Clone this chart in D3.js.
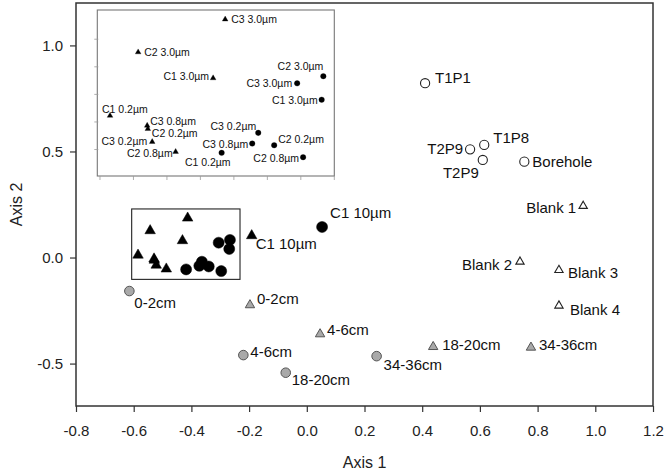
<!DOCTYPE html>
<html><head><meta charset="utf-8">
<script src="https://cdn.jsdelivr.net/npm/d3@7"></script>
<style>
body{margin:0;background:#fff;}
text{font-family:"Liberation Sans",Arial,sans-serif;}
</style>
</head><body>
<svg id="chart" width="666" height="472"></svg>
<script>
// ---------- data ----------
const xTicks = [-0.8,-0.6,-0.4,-0.2,0.0,0.2,0.4,0.6,0.8,1.0,1.2];
const yTicks = [-0.5,0.0,0.5,1.0];
const insetXTicks = [-0.6,-0.55,-0.5,-0.45,-0.4,-0.35,-0.3,-0.25];
const insetYTicks = [-0.05,0.0,0.05,0.10,0.15];

// filtered size-fraction samples (cluster shown in the inset)
const clusterTriNames = ["C3 3.0µm","C2 3.0µm","C1 3.0µm","C1 0.2µm","C3 0.8µm","C2 0.2µm","C3 0.2µm","C2 0.8µm"];
const clusterTriX = [-0.413,-0.543,-0.431,-0.585,-0.5295,-0.5285,-0.522,-0.487];
const clusterTriY = [0.186,0.1265,0.0795,0.0114,-0.0066,-0.0126,-0.036,-0.054];
const clusterCircNames = ["C2 3.0µm","C3 3.0µm","C1 3.0µm","C3 0.2µm","C3 0.8µm","C2 0.2µm","C1 0.2µm","C2 0.8µm"];
const clusterCircX = [-0.2664,-0.3055,-0.2689,-0.3636,-0.3726,-0.3398,-0.4183,-0.2966];
const clusterCircY = [0.083,0.070,0.0403,-0.0198,-0.0392,-0.0422,-0.056,-0.0639];

// zoom box in main plot: [x0, x1, y0, y1]
const zoomBox = [-0.607,-0.2315,-0.103,0.229];

// other samples
const bigTriNames = ["C1 10µm"]; const bigTriX = [-0.191]; const bigTriY = [0.103];
const bigCircNames = ["C1 10µm"]; const bigCircX = [0.053]; const bigCircY = [0.144];

const openCircNames = ["T1P1","T1P8","T2P9","T2P9","Borehole"];
const openCircX = [0.41,0.615,0.566,0.61,0.754];
const openCircY = [0.822,0.531,0.510,0.46,0.452];

const openTriNames = ["Blank 1","Blank 2","Blank 3","Blank 4"];
const openTriX = [0.958,0.739,0.874,0.874];
const openTriY = [0.243,-0.020,-0.059,-0.227];

const greyCircNames = ["0-2cm","4-6cm","18-20cm","34-36cm"];
const greyCircX = [-0.615,-0.220,-0.073,0.242];
const greyCircY = [-0.158,-0.46,-0.543,-0.465];

const greyTriNames = ["0-2cm","4-6cm","18-20cm","34-36cm"];
const greyTriX = [-0.197,0.046,0.438,0.777];
const greyTriY = [-0.224,-0.361,-0.421,-0.424];

// ---------- label placement (dx, dy, anchor) ----------
const bigTriLab = [[4,8,"start"]];
const bigCircLab = [[8,-14,"start"]];
const openCircLab = [[10,-6,"start"],[9,-7,"start"],[-7,-1,"end"],[-4,13,"end"],[8,0,"start"]];
const openTriLab = [[-7,2,"end"],[-8,3,"end"],[9,2,"start"],[11,4,"start"]];
const greyCircLab = [[5,11,"start"],[7,-4,"start"],[6,7,"start"],[7,8,"start"]];
const greyTriLab = [[7,-7,"start"],[7,-5,"start"],[9,-2,"start"],[8,-3,"start"]];
const insetTriLab = [[6,0,"start"],[6,0,"start"],[-4,-2,"end"],[-8,-7,"start"],[3,-5,"start"],[4,4,"start"],[-5,-1,"end"],[-3,1,"end"]];
const insetCircLab = [[0,-10,"end"],[-5,0,"end"],[-4,0,"end"],[-2,-7,"end"],[-4,0,"end"],[4,-6,"start"],[9,9,"end"],[-4,1,"end"]];

// ---------- drawing ----------
const svg = d3.select("#chart");
const M = {l:76, r:653, t:3, b:406};
const x = d3.scaleLinear().domain([-0.8,1.2]).range([M.l,M.r]);
const y = d3.scaleLinear().domain([-0.7,1.2]).range([M.b,M.t]);

const zip = (n,xs,ys,lab)=>n.map((name,i)=>({name,x:xs[i],y:ys[i],lab:lab?lab[i]:null}));
const tri = d3.symbol().type(d3.symbolTriangle);
const circ = d3.symbol().type(d3.symbolCircle);

// axes
const xAxis = d3.axisBottom(x).tickValues(xTicks).tickFormat(d3.format(".1f")).tickSize(6).tickSizeOuter(0).tickPadding(13);
const gx = svg.append("g").attr("transform",`translate(0,${M.b})`).call(xAxis);
const yAxis = d3.axisLeft(y).tickValues(yTicks).tickFormat(d3.format(".1f")).tickSize(6).tickSizeOuter(0).tickPadding(7);
const gy = svg.append("g").attr("transform",`translate(${M.l},0)`).call(yAxis);
[gx,gy].forEach(g=>{
  g.select(".domain").remove();
  g.selectAll(".tick line").attr("stroke","#333").attr("stroke-width",1.2);
  g.selectAll(".tick text").attr("font-size",15).attr("fill","#222").style("font-family","'Liberation Sans',Arial,sans-serif");
});
gx.selectAll(".tick text").text(d=>d3.format(".1f")(d).replace("−","-"));
gy.selectAll(".tick text").text(d=>d3.format(".1f")(d).replace("−","-"));

// frame
svg.append("rect").attr("x",M.l).attr("y",M.t).attr("width",M.r-M.l).attr("height",M.b-M.t)
  .attr("fill","none").attr("stroke","#333").attr("stroke-width",1.5);

// axis titles
svg.append("text").attr("x",(M.l+M.r)/2).attr("y",468).attr("text-anchor","middle")
  .attr("font-size",16).attr("fill","#222").text("Axis 1");
svg.append("text").attr("transform",`translate(22,${(M.t+M.b)/2}) rotate(-90)`).attr("text-anchor","middle")
  .attr("font-size",16).attr("fill","#222").text("Axis 2");

// zoom box in main plot
svg.append("rect").attr("x",x(zoomBox[0])).attr("y",y(zoomBox[3]))
  .attr("width",x(zoomBox[1])-x(zoomBox[0])).attr("height",y(zoomBox[2])-y(zoomBox[3]))
  .attr("fill","none").attr("stroke","#222").attr("stroke-width",1.1);

function drawGroup(g,data,sx,sy,sym,size,fill,stroke,sw,fs){
  const grp = g.append("g");
  grp.selectAll("path").data(data).join("path")
    .attr("d",sym.size(size)())
    .attr("transform",d=>`translate(${sx(d.x)},${sy(d.y)})`)
    .attr("fill",fill).attr("stroke",stroke).attr("stroke-width",sw);
  grp.selectAll("text").data(data.filter(d=>d.lab)).join("text")
    .attr("x",d=>sx(d.x)+d.lab[0]).attr("y",d=>sy(d.y)+d.lab[1])
    .attr("dominant-baseline","central").attr("text-anchor",d=>d.lab[2])
    .attr("font-size",fs).attr("fill","#111").text(d=>d.name);
}

// main plot markers
drawGroup(svg,zip(clusterTriNames,clusterTriX,clusterTriY,null),x,y,tri,48,"#000","#000",0.5,15);
drawGroup(svg,zip(clusterCircNames,clusterCircX,clusterCircY,null),x,y,circ,95,"#000","#000",0.5,15);
drawGroup(svg,zip(bigTriNames,bigTriX,bigTriY,bigTriLab),x,y,tri,48,"#000","#000",0.5,15);
drawGroup(svg,zip(bigCircNames,bigCircX,bigCircY,bigCircLab),x,y,circ,95,"#000","#000",0.5,15);
drawGroup(svg,zip(openCircNames,openCircX,openCircY,openCircLab),x,y,circ,66,"#fff","#222",1.1,15);
drawGroup(svg,zip(openTriNames,openTriX,openTriY,openTriLab),x,y,tri,30,"#fff","#222",1.1,15);
drawGroup(svg,zip(greyCircNames,greyCircX,greyCircY,greyCircLab),x,y,circ,72,"#a9a9a9","#555",1,15);
drawGroup(svg,zip(greyTriNames,greyTriX,greyTriY,greyTriLab),x,y,tri,38,"#a9a9a9","#555",1,15);

// ---------- inset ----------
const I = {l:97.3, r:334.3, t:10, b:176};
const ix = d3.scaleLinear().domain([-0.604,-0.25]).range([I.l,I.r]);
const iy = d3.scaleLinear().domain([-0.098,0.203]).range([I.b,I.t]);
const inset = svg.append("g");
inset.append("rect").attr("x",I.l).attr("y",I.t).attr("width",I.r-I.l).attr("height",I.b-I.t)
  .attr("fill","#fff").attr("stroke","#777").attr("stroke-width",1.1);
inset.selectAll("line.xt").data(insetXTicks).join("line").attr("class","xt")
  .attr("x1",d=>ix(d)).attr("x2",d=>ix(d)).attr("y1",I.b).attr("y2",I.b+4)
  .attr("stroke","#999").attr("stroke-width",0.8);
inset.selectAll("line.yt").data(insetYTicks).join("line").attr("class","yt")
  .attr("y1",d=>iy(d)).attr("y2",d=>iy(d)).attr("x1",I.l-3).attr("x2",I.l+1)
  .attr("stroke","#999").attr("stroke-width",0.8);
drawGroup(inset,zip(clusterTriNames,clusterTriX,clusterTriY,insetTriLab),ix,iy,tri,14,"#000","#000",0.3,10.5);
drawGroup(inset,zip(clusterCircNames,clusterCircX,clusterCircY,insetCircLab),ix,iy,circ,24,"#000","#000",0.3,10.5);
</script>
</body></html>
